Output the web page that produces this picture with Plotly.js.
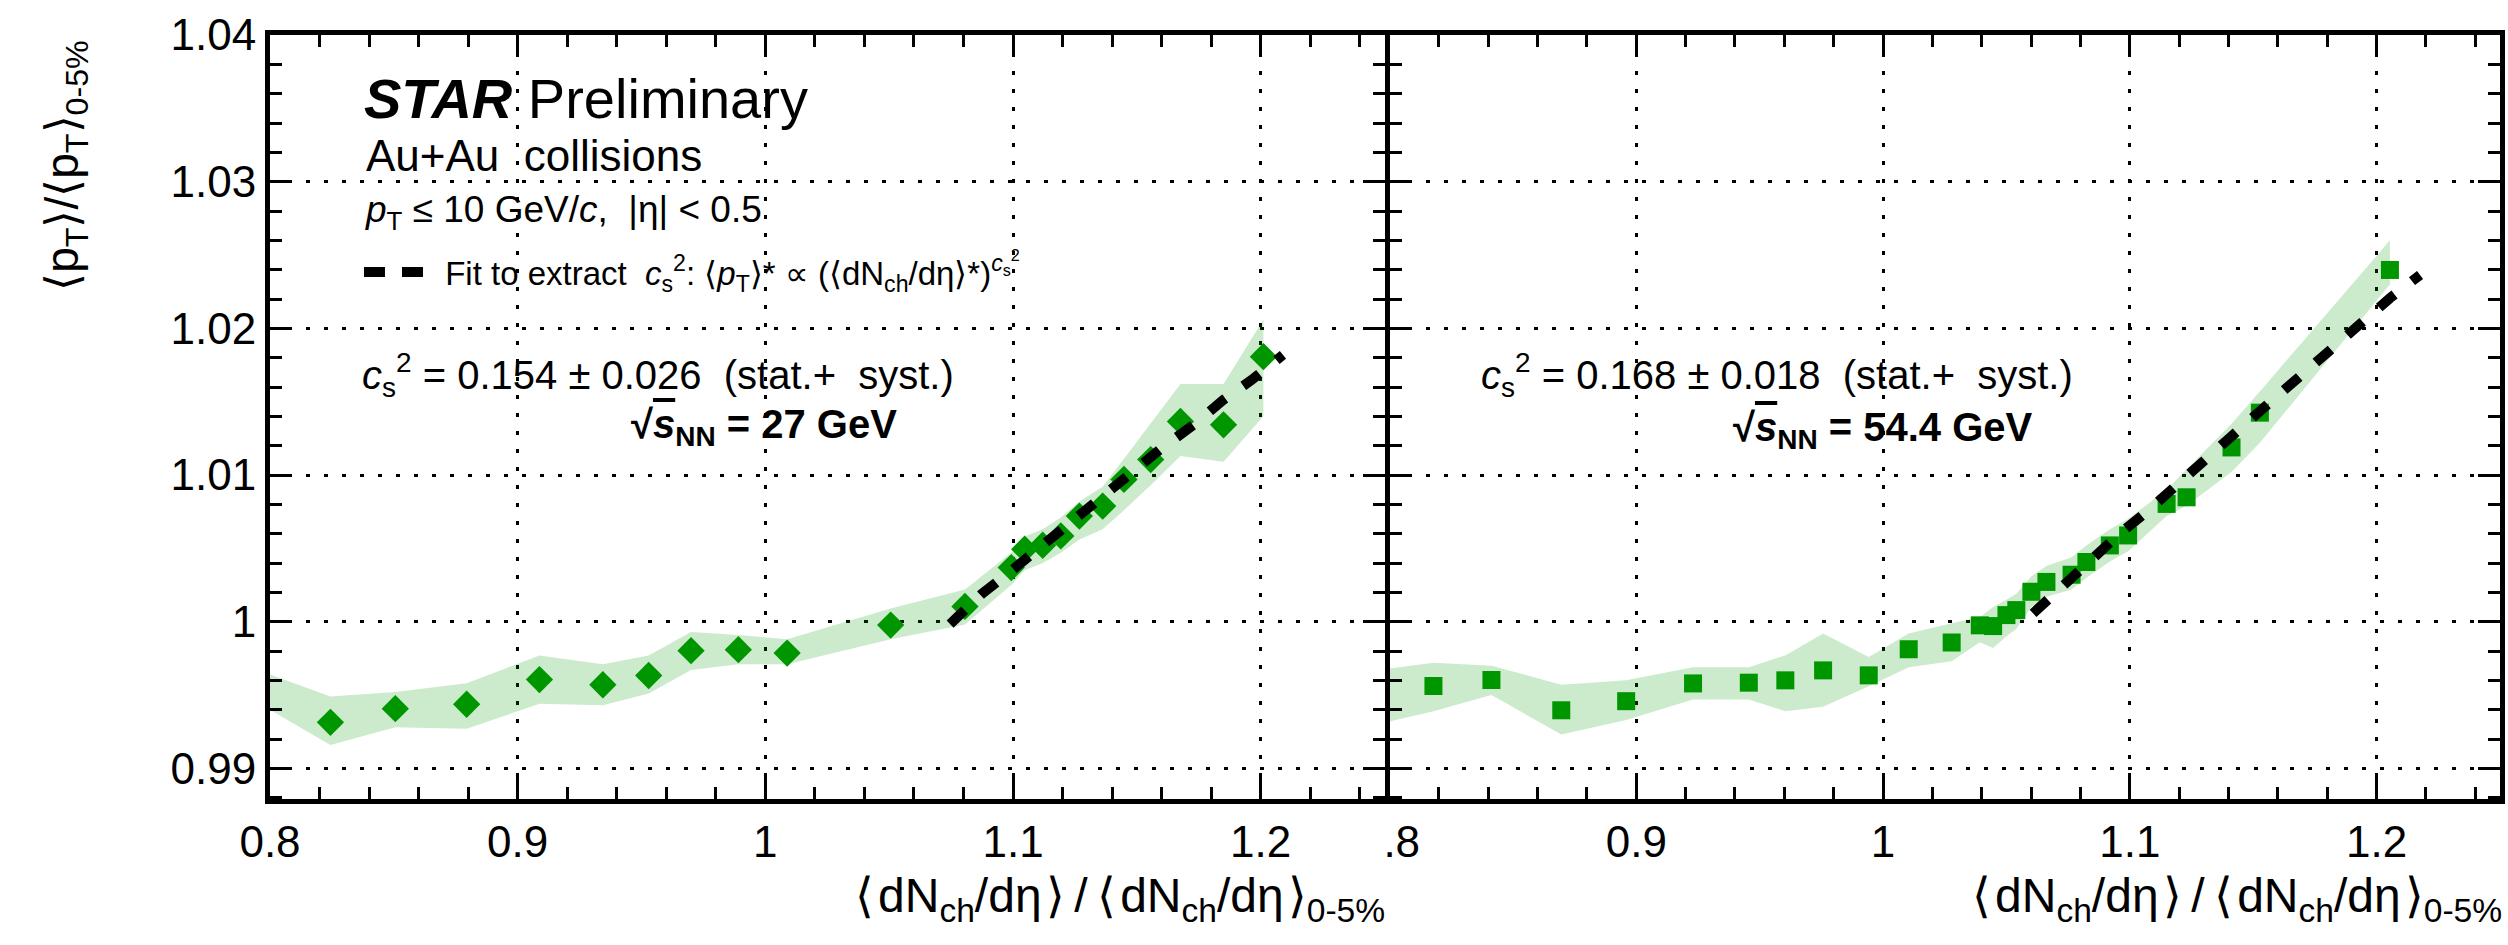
<!DOCTYPE html>
<html><head><meta charset="utf-8">
<script src="https://cdn.plot.ly/plotly-3.0.1.min.js"></script>
<style>html,body{margin:0;padding:0;background:#fff}#chart{width:2508px;height:945px}</style>
</head><body><div id="chart"></div>
<script>
// ---------- Left panel: Au+Au 27 GeV ----------
const x27 = [0.8244, 0.8506, 0.8794, 0.9088, 0.9344, 0.9529, 0.9700, 0.9891, 1.0088, 1.0506, 1.0806,
             1.0993, 1.1047, 1.1120, 1.1193, 1.1268, 1.1362, 1.1448, 1.1556, 1.1676, 1.1850, 1.2011];
const y27 = [0.99314, 0.99407, 0.99437, 0.99605, 0.99570, 0.99633, 0.99802, 0.99809, 0.99786, 0.99977, 1.00104,
             1.00369, 1.00494, 1.00521, 1.00585, 1.00720, 1.00788, 1.00970, 1.01105, 1.01365, 1.01342, 1.01807];
const stat27 = [0.0005, 0.0005, 0.0005, 0.0005, 0.0005, 0.0005, 0.0005, 0.0005, 0.0005, 0.0005, 0.0005,
                0.0005, 0.0005, 0.0005, 0.0005, 0.0005, 0.0005, 0.0005, 0.0005, 0.0005, 0.0005, 0.0005];
const band27X  = [0.8000, 0.8244, 0.8506, 0.8794, 0.9088, 0.9344, 0.9529, 0.9700, 0.9891, 1.0088, 1.0506, 1.0806,
                  1.0993, 1.1047, 1.1120, 1.1193, 1.1268, 1.1362, 1.1448, 1.1556, 1.1676, 1.1850, 1.2011];
const band27Hi = [0.9964, 0.9949, 0.9952, 0.9958, 0.9977, 0.9971, 0.9977, 0.9993, 0.9991, 0.9988, 1.0009, 1.0022,
                  1.0047, 1.0058, 1.0063, 1.0071, 1.0082, 1.0092, 1.0111, 1.0135, 1.0162, 1.0162, 1.0206];
const band27Lo = [0.9940, 0.9916, 0.9928, 0.9927, 0.9944, 0.9943, 0.9951, 0.9967, 0.9971, 0.9971, 0.9988, 0.9998,
                  1.0025, 1.0035, 1.0040, 1.0047, 1.0056, 1.0063, 1.0076, 1.0093, 1.0113, 1.0109, 1.0140];
const fit27X = [1.0746, 1.0873, 1.0993, 1.1114, 1.1241, 1.1355, 1.1482, 1.1602, 1.1730, 1.1850, 1.1964, 1.2090];
const fit27Y = [0.99984, 1.00188, 1.00347, 1.00516, 1.00698, 1.00856, 1.01026, 1.01185, 1.01343, 1.01513, 1.01649, 1.01819];

// ---------- Right panel: Au+Au 54.4 GeV ----------
const x54 = [0.8178, 0.8413, 0.8696, 0.8959, 0.9230, 0.9456, 0.9604, 0.9757, 0.9942, 1.0104, 1.0278, 1.0392, 1.0446,
             1.0500, 1.0540, 1.0601, 1.0662, 1.0764, 1.0824, 1.0919, 1.0993, 1.1149, 1.1230, 1.1412, 1.1527, 1.2054];
const y54 = [0.99561, 0.99602, 0.99396, 0.99458, 0.99579, 0.99584, 0.99600, 0.99668, 0.99634, 0.99812, 0.99858, 0.99975, 0.99970,
             1.00045, 1.00079, 1.00204, 1.00271, 1.00320, 1.00407, 1.00520, 1.00588, 1.00803, 1.00848, 1.01188, 1.01425, 1.02398];
const band54X  = [0.8000, 0.8178, 0.8413, 0.8696, 0.8959, 0.9230, 0.9456, 0.9604, 0.9757, 0.9942, 1.0104, 1.0278, 1.0392,
                  1.0446, 1.0500, 1.0540, 1.0601, 1.0662, 1.0764, 1.0824, 1.0919, 1.0993, 1.1149, 1.1230, 1.1412, 1.1527, 1.2054];
const band54Hi = [0.9968, 0.9972, 0.9970, 0.9957, 0.9960, 0.9969, 0.9969, 0.9977, 0.9992, 0.9976, 0.9992, 0.9999, 1.0003,
                  1.0010, 1.0015, 1.0019, 1.0031, 1.0038, 1.0044, 1.0052, 1.0063, 1.0070, 1.0090, 1.0104, 1.0135, 1.0157, 1.0260];
const band54Lo = [0.9932, 0.9939, 0.9950, 0.9923, 0.9933, 0.9947, 0.9947, 0.9939, 0.9942, 0.9956, 0.9969, 0.9973, 0.9986,
                  0.9982, 0.9990, 0.9995, 1.0010, 1.0017, 1.0022, 1.0030, 1.0041, 1.0048, 1.0072, 1.0079, 1.0102, 1.0122, 1.0230];
const fit54X = [1.0608, 1.0723, 1.0838, 1.0959, 1.1074, 1.1277, 1.1399, 1.1520, 1.1635, 1.1750, 1.1872, 1.1939, 1.2054, 1.2176];
const fit54Y = [1.00057, 1.00238, 1.00419, 1.00600, 1.00758, 1.01075, 1.01244, 1.01425, 1.01595, 1.01765, 1.01934, 1.02048, 1.02206, 1.02364];

// ---------- Axes ticks ----------
const xTickVals  = [0.8, 0.9, 1.0, 1.1, 1.2];
const xTickText  = ['0.8', '0.9', '1', '1.1', '1.2'];
const xTickText2 = ['<span style="color:rgba(0,0,0,0)">0</span>.8', '0.9', '1', '1.1', '1.2'];
const yTickVals  = [0.99, 1.00, 1.01, 1.02, 1.03, 1.04];
const yTickText  = ['0.99', '1', '1.01', '1.02', '1.03', '1.04'];
const xRange = [0.8, 1.25];
const yRange = [0.98791, 1.04];

const FONT = 'Liberation Sans, Arial, Helvetica, sans-serif';
const GREEN = 'rgb(0,150,0)';
const BAND = 'rgba(0,150,0,0.2)';

function bandTrace(xs, lo, hi, xa, ya) {
  return {
    x: xs.concat(xs.slice().reverse()),
    y: hi.concat(lo.slice().reverse()),
    xaxis: xa, yaxis: ya, type: 'scatter', mode: 'lines', fill: 'toself',
    fillcolor: BAND, line: {width: 0, color: BAND}, hoverinfo: 'skip', showlegend: false
  };
}

const legendName = '&nbsp;Fit to extract &nbsp;<i>c</i><sub>s</sub><sup>2</sup>: ⟨<i>p</i><sub>T</sub>⟩* ∝ (⟨dN<sub>ch</sub>/dη⟩*)<sup><i>c</i><sub>s</sub><sup>2</sup></sup>';

const data = [
  bandTrace(band27X, band27Lo, band27Hi, 'x', 'y'),
  bandTrace(band54X, band54Lo, band54Hi, 'x2', 'y2'),
  {x: x27, y: y27, xaxis: 'x', yaxis: 'y', type: 'scatter', mode: 'markers', showlegend: false,
   marker: {symbol: 'diamond', size: 21, color: GREEN},
   error_y: {type: 'data', array: stat27, visible: true, color: GREEN, thickness: 3, width: 0}},
  {x: x54, y: y54, xaxis: 'x2', yaxis: 'y2', type: 'scatter', mode: 'markers', showlegend: false,
   marker: {symbol: 'square', size: 18, color: GREEN}},
  {x: fit27X, y: fit27Y, xaxis: 'x', yaxis: 'y', type: 'scatter', mode: 'lines', showlegend: false,
   line: {color: '#000', width: 10, dash: '20px,22px'}},
  {x: fit54X, y: fit54Y, xaxis: 'x2', yaxis: 'y2', type: 'scatter', mode: 'lines', showlegend: false,
   line: {color: '#000', width: 10, dash: '20px,22px'}},
  // legend key for the fit (no data of its own)
  {x: [null], y: [null], xaxis: 'x', yaxis: 'y', type: 'scatter', mode: 'lines', name: legendName,
   showlegend: true, line: {color: '#000', width: 13, dash: '21px,17px'}}
];

const splitL = 0.49978, splitR = 0.50202, split = 0.5009;
function xAxis(domain, anchor, ticktext) {
  return {
    domain: domain, anchor: anchor, range: xRange, tickmode: 'array', tickvals: xTickVals, ticktext: ticktext,
    ticks: 'inside', ticklen: 22, tickwidth: 3, tickcolor: '#000',
    minor: {dtick: 0.02, tick0: 0.8, ticks: 'inside', ticklen: 12, tickwidth: 3, tickcolor: '#000', showgrid: false},
    showline: true, linewidth: 5, linecolor: '#000', mirror: 'ticks',
    showgrid: true, gridcolor: '#000', gridwidth: 3, griddash: '4px,14px', zeroline: false,
    tickfont: {family: FONT, size: 44, color: '#000'}
  };
}
function yAxis(anchor, showlabels) {
  return {
    anchor: anchor, domain: [0, 1], range: yRange, tickmode: 'array', tickvals: yTickVals, ticktext: yTickText,
    showticklabels: showlabels,
    ticks: 'inside', ticklen: 22, tickwidth: 3, tickcolor: '#000',
    minor: {dtick: 0.002, tick0: 0.99, ticks: 'inside', ticklen: 12, tickwidth: 3, tickcolor: '#000', showgrid: false},
    showline: true, linewidth: 5, linecolor: '#000', mirror: 'ticks',
    showgrid: true, gridcolor: '#000', gridwidth: 3, griddash: '4px,14px', zeroline: false,
    tickfont: {family: FONT, size: 44, color: '#000'}
  };
}

const HS = '\u200A', TS = '\u2009';
const xTitle = '⟨' + HS + 'dN<sub>ch</sub>/dη' + HS + '⟩' + TS + '/' + TS + '⟨' + HS + 'dN<sub>ch</sub>/dη' + HS + '⟩<sub>0-5%</sub>';
const yTitle = '⟨p<sub>T</sub>⟩/⟨p<sub>T</sub>⟩<sub>0-5%</sub>';

function note(text, x, y, xref, yref, size, extra) {
  return Object.assign({text: text, x: x, y: y, xref: xref, yref: yref, xanchor: 'left', yanchor: 'middle',
    showarrow: false, font: {family: FONT, size: size, color: '#000'}}, extra || {});
}

const sqrtS = '√<span style="text-decoration:overline"><i>s</i></span><sub>NN</sub>';
const annotations = [
  note('<b><i>STAR</i></b> Preliminary', 0.8371, 1.0357, 'x', 'y', 56),
  note('Au+Au &nbsp;collisions', 0.8379, 1.0318, 'x', 'y', 44),
  note('<i>p</i><sub>T</sub> ≤ 10 GeV/<i>c</i>, &nbsp;|η| &lt; 0.5', 0.8375, 1.0279, 'x', 'y', 37),
  note('<i>c</i><sub>s</sub><sup>2</sup> = 0.154 ± 0.026 &nbsp;(stat.+ &nbsp;syst.)', 0.8363, 1.0168, 'x', 'y', 40),
  note('<b>' + sqrtS + ' = 27 GeV</b>', 0.945, 1.0133, 'x', 'y', 40),
  note('<i>c</i><sub>s</sub><sup>2</sup> = 0.168 ± 0.018 &nbsp;(stat.+ &nbsp;syst.)', 0.8364, 1.0168, 'x2', 'y2', 40),
  note('<b>' + sqrtS + ' = 54.4 GeV</b>', 0.9383, 1.0131, 'x2', 'y2', 40),
  note(xTitle, split, -0.0895, 'paper', 'paper', 48, {xanchor: 'right', yanchor: 'top'}),
  note(xTitle, 1.0018, -0.0895, 'paper', 'paper', 48, {xanchor: 'right', yanchor: 'top'}),
  note(yTitle, -0.0915, 0.995, 'paper', 'paper', 46, {xanchor: 'center', yanchor: 'top', textangle: -90})
];

const layout = {
  width: 2508, height: 945,
  margin: {l: 270, r: 8, t: 35, b: 146, pad: 0},
  paper_bgcolor: '#fff', plot_bgcolor: '#fff',
  font: {family: FONT, color: '#000'},
  showlegend: true,
  legend: {x: 0.0399, y: 0.6898, xanchor: 'left', yanchor: 'middle', bgcolor: 'rgba(0,0,0,0)',
           font: {family: FONT, size: 33, color: '#000'}, itemwidth: 67},
  xaxis: xAxis([0, splitL], 'y', xTickText),
  yaxis: yAxis('x', true),
  xaxis2: xAxis([splitR, 1], 'y2', xTickText2),
  yaxis2: yAxis('x2', false),
  annotations: annotations
};

Plotly.newPlot('chart', data, layout, {displayModeBar: false, staticPlot: true});
</script>
</body></html>
